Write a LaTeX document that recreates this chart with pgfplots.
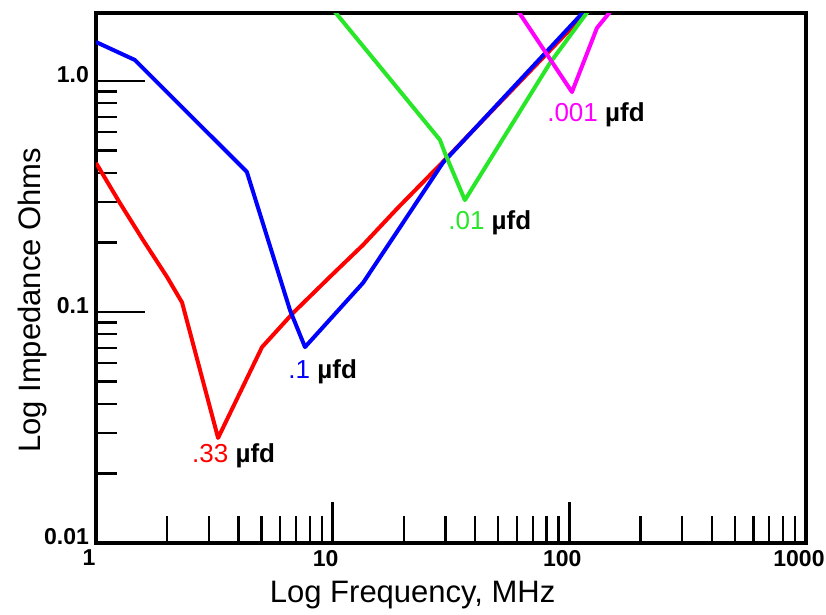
\documentclass[border=0pt]{standalone}
\usepackage{pgfplots}
\pgfplotsset{compat=1.18}
\usepackage{fontspec}
\setmainfont{Liberation Sans}

\definecolor{zred}{RGB}{255,0,0}
\definecolor{zblue}{RGB}{0,0,255}
\definecolor{zgreen}{RGB}{40,230,40}
\definecolor{zmag}{RGB}{255,0,255}

\begin{document}
\begin{tikzpicture}
\begin{axis}[name=ax,
  scale only axis, width=355pt, height=265pt,
  xmode=log, ymode=log,
  xmin=1, xmax=1000, ymin=0.01, ymax=1.97,
  axis line style={line width=2pt},
  tick align=inside, tick pos=left,
  xtick={1,10,100,1000}, xticklabels={1,10,100,1000},
  minor xtick={2,3,4,5,6,7,8,9,20,30,40,50,60,70,80,90,200,300,400,500,600,700,800,900},
  ytick={0.01,0.1,1}, yticklabels={0.01,0.1,1.0},
  minor ytick={0.02,0.03,0.04,0.05,0.06,0.07,0.08,0.09,0.2,0.3,0.4,0.5,0.6,0.7,0.8,0.9},
  xtick style={/pgfplots/major tick length=20.5pt,/pgfplots/minor tick length=13.5pt},
  ytick style={/pgfplots/major tick length=24.5pt,/pgfplots/minor tick length=10.5pt},
  major tick style={line width=1.4pt, black},
  minor tick style={line width=1.1pt, black},
  ticklabel style={font=\fontsize{11.5}{13}\selectfont\bfseries},
  yticklabel style={yshift=3pt},
  xticklabel style={xshift=-3.5pt},
  /pgf/number format/assume math mode=true,
  xlabel={Log Frequency, MHz}, ylabel={Log Impedance Ohms},
  label style={font=\fontsize{15.5}{18}\selectfont},
  xlabel style={at={(axis description cs:0.446,-0.098)}, anchor=center},
  ylabel style={at={(axis description cs:-0.09,0.458)}, anchor=center},
  every axis plot/.append style={line width=2pt, line join=round},
]
% .33 ufd
\addplot[zred] coordinates {
  (1,0.442) (1.263,0.296) (1.58,0.205) (1.995,0.142) (2.31,0.110)
  (3.28,0.0285) (5.03,0.0705) (6.80,0.099) (9.74,0.142) (13.43,0.195)
  (18.7,0.28) (29.2,0.446) (122,2.05)};
% .1 ufd
\addplot[zblue] coordinates {
  (1,1.475) (1.46,1.233) (4.34,0.404) (6.60,0.102) (7.64,0.0705)
  (13.43,0.1336) (29.2,0.442) (118,2.05)};
% .01 ufd
\addplot[zgreen] coordinates {
  (9.8,2.1) (28.4,0.556) (29.8,0.488) (36.2,0.305) (82.8,1.196) (124,2.1)};
% .001 ufd
\addplot[zmag] coordinates {
  (59,2.1) (102.6,0.896) (130.8,1.696) (155,2.1)};

\begin{scope}[every node/.style={anchor=west, inner sep=0pt, font=\fontsize{13}{15}\selectfont}]
\node at (axis cs:2.54,0.0238) {\textcolor{zred}{.33} \textbf{µfd}};
\node at (axis cs:6.48,0.055) {\textcolor{zblue}{.1} \textbf{µfd}};
\node at (axis cs:30.7,0.243) {\textcolor{zgreen}{.01} \textbf{µfd}};
\node at (axis cs:80.4,0.712) {\textcolor{zmag}{.001} \textbf{µfd}};
\end{scope}
\end{axis}
\pgfresetboundingbox
\path ([xshift=-48pt,yshift=-35.5pt]ax.south west) rectangle ([xshift=10pt,yshift=6.5pt]ax.north east);
\end{tikzpicture}
\end{document}
